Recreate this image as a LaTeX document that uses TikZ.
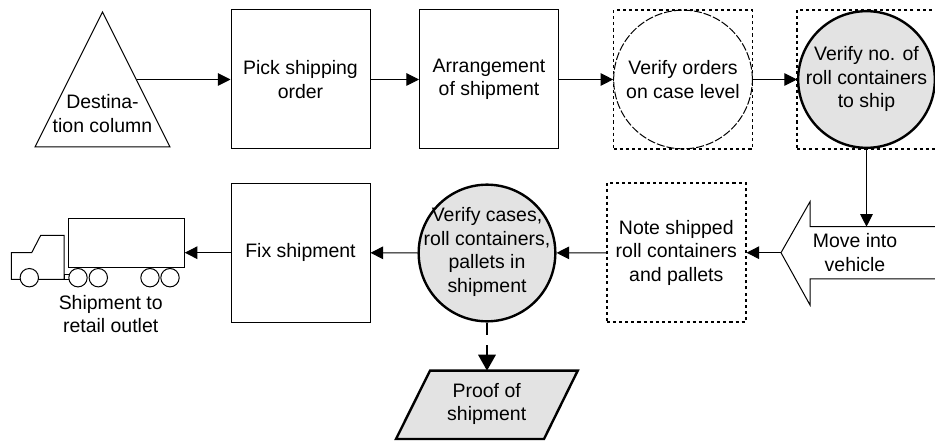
\documentclass[tikz,border=0pt]{standalone}
\usepackage{fontspec}
\setmainfont{Liberation Sans}
\usetikzlibrary{arrows.meta}
\definecolor{shade}{gray}{0.89}
\begin{document}
\begin{tikzpicture}[x=0.75pt,y=-0.75pt,line width=0.75pt,
  >={Triangle[length=9.5pt,width=9.5pt]},
  txt/.style={align=center,inner sep=0pt,font=\fontsize{14.6}{17.6}\selectfont},
  stepbox/.style={draw,txt,minimum width=104.25pt,minimum height=104.25pt},
  dotbox/.style={stepbox,line width=1.1pt,dash pattern=on 2.3pt off 2.3pt},
  checkdot/.style={draw,circle,inner sep=0pt,minimum size=104pt,dash pattern=on 6pt off 1.5pt},
  checkgray/.style={draw,circle,inner sep=0pt,fill=shade,line width=1.8pt,minimum size=102.5pt},
  thickgray/.style={draw,fill=shade,line width=1.8pt}]
\useasboundingbox (0,0) rectangle (935,441);
% top row
\draw (102.5,12) -- (170,147) -- (35,147) -- cycle;
\node[txt] (dest) at (102.5,113.5) {Destina-\\tion column};
\coordinate (destout) at (136.5,79.5);
\node[stepbox] (pick) at (300.5,79.5) {Pick shipping\\order};
\node[stepbox] (arrange) at (489,79.5) {Arrangement\\of shipment};
\node[dotbox] (ordersbox) at (683,79.5) {};
\node[checkdot] (orders) at (683,79.5) {};
\node[txt] (orderstxt) at (683,79.5) {Verify orders\\on case level};
\node[dotbox] (numberbox) at (866.5,79.5) {};
\node[checkgray] (number) at (866.5,79.5) {};
\node[txt] (numbertxt) at (866.5,79) {Verify no. of\\roll containers\\to ship};
% bottom row
\draw (935,226.7) -- (810,226.7) -- (810,201.7) -- (781,252.7) -- (810,305) -- (810,279) -- (935,279);
\coordinate (movetip) at (781,252.7);
\coordinate (movetop) at (866.5,226.7);
\node[txt] (move) at (855,252.5) {Move into\\vehicle};
\node[dotbox] (note) at (676.3,252.7) {Note shipped\\roll containers\\and pallets};
\node[checkgray] (cases) at (487,253) {};
\node[txt] (casestxt) at (487,252) {Verify cases,\\roll containers,\\pallets in\\shipment};
\node[stepbox] (fix) at (300.5,252.7) {Fix shipment};
% truck
\draw (11.3,279.3) -- (11.3,252.7) -- (31.7,252.7) -- (40.7,235.3) -- (64,235.3) -- (64,279.3) -- cycle;
\draw (64,275) rectangle (70,279.3);
\node[draw,txt,minimum width=87pt,minimum height=37pt] (cargo) at (126.3,243) {};
\draw[fill=white] (29.3,277.7) circle (9.2);
\draw[fill=white] (78,277.7) circle (9.2);
\draw[fill=white] (98.3,277.7) circle (9.2);
\draw[fill=white] (150,277.7) circle (9.2);
\draw[fill=white] (170,277.7) circle (9.2);
\node[txt] (outlet) at (110.7,314) {Shipment to\\retail outlet};
% proof
\draw[thickgray] (430,370.7) -- (577.7,370.7) -- (544,439) -- (396,439) -- cycle;
\coordinate (prooftop) at (487,370.7);
\node[txt] (proof) at (486.7,404) {Proof of\\shipment};
% flow
\draw[->] (destout) -- (pick);
\draw[->] (pick) -- (arrange);
\draw[->] (arrange) -- (orders);
\draw[->] (orders) -- (number);
\draw[->] (number) -- (movetop);
\draw[->] (movetip) -- (note);
\draw[->] (note) -- (cases);
\draw[->] (cases) -- (fix);
\draw[->] (fix.west) -- (cargo.east |- fix.west);
\draw[->,line width=1.8pt,dash pattern=on 9.5pt off 7.5pt on 40pt off 0pt,>={Triangle[length=12pt,width=13pt]}] (cases) -- (prooftop);
\end{tikzpicture}
\end{document}
